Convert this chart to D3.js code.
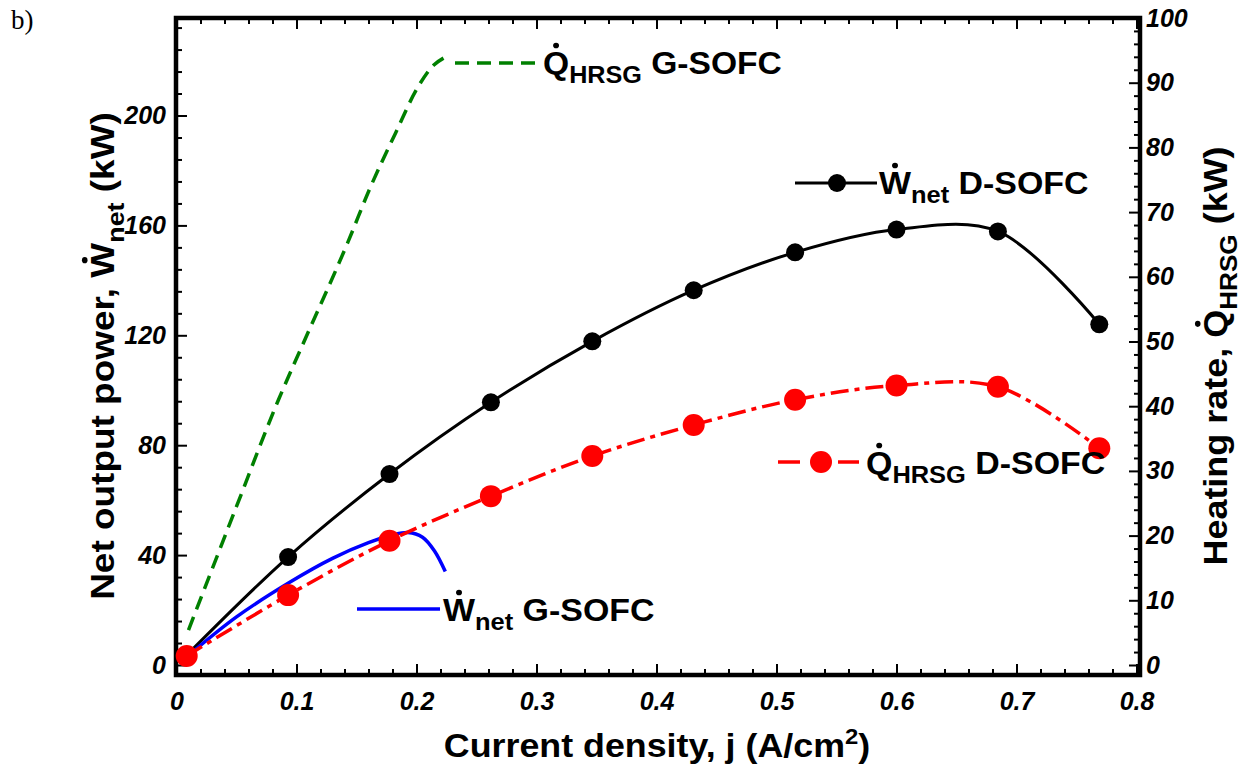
<!DOCTYPE html>
<html>
<head>
<meta charset="utf-8">
<script src="https://cdn.jsdelivr.net/npm/d3@7"></script>
<style>
  html, body { margin: 0; padding: 0; background: #fff; }
  svg { display: block; }
  text { font-family: Arial, "Liberation Sans", sans-serif; }
</style>
</head>
<body>
<svg id="chart" width="1248" height="775"></svg>
<script>
// ---------- data ----------
const jD = [0.0085, 0.093, 0.1775, 0.262, 0.3465, 0.431, 0.5155, 0.600, 0.6845, 0.769];
const wNetD = [3.6, 39.3, 69.5, 95.6, 117.8, 136.4, 150.2, 158.5, 157.8, 124];
const qHrsgD = [1.4, 10.8, 19.2, 26.1, 32.3, 37.1, 41.0, 43.2, 43.0, 33.5];

const jGq = [0.01, 0.05, 0.085, 0.1075, 0.1425, 0.1617, 0.1825, 0.2008, 0.2142, 0.2225];
const qHrsgG = [5.4, 24.5, 41, 50.5, 65.2, 73.9, 82.2, 89.2, 92.7, 93.8];

const jGw = [0.01, 0.05, 0.094, 0.13, 0.16, 0.18, 0.193, 0.205, 0.215, 0.224];
const wNetG = [3.5, 17.5, 30, 38.8, 44.5, 47.3, 48.2, 46.5, 41.5, 34];

const xTicks = [0, 0.1, 0.2, 0.3, 0.4, 0.5, 0.6, 0.7, 0.8];
const yLeftTicks = [0, 40, 80, 120, 160, 200];
const yRightTicks = [0, 10, 20, 30, 40, 50, 60, 70, 80, 90, 100];

// ---------- layout ----------
const L = 176, R = 1140, T = 18, B = 675;
const svg = d3.select("#chart");

const x = d3.scaleLinear().domain([0, 0.8]).range([176.5, 1136.5]);
const yL = d3.scaleLinear().domain([0, 200]).range([665, 115.5]);
const yR = d3.scaleLinear().domain([0, 100]).range([665, 18]);

const tickFont = "bold italic 25px Arial, 'Liberation Sans', sans-serif";

function styleAxis(g) {
  g.select(".domain").remove();
  g.selectAll(".tick line").attr("stroke", "#000").attr("stroke-width", 2);
  g.selectAll(".tick text").style("font", tickFont).attr("fill", "#000");
}

const xMinor = d3.range(0, 0.801, 0.02).filter(v => Math.abs(v * 10 - Math.round(v * 10)) > 1e-6);
const yLMinor = d3.range(8, 236, 8).filter(v => v % 40 !== 0);
const yRMinor = d3.range(2, 100, 2).filter(v => v % 10 !== 0);

// bottom
svg.append("g").attr("transform", `translate(0,${B})`)
  .call(d3.axisBottom(x).tickValues(xMinor).tickSize(-6).tickFormat(""))
  .call(styleAxis);
svg.append("g").attr("transform", `translate(0,${B})`)
  .call(d3.axisBottom(x).tickValues(xTicks).tickSize(-11).tickPadding(17)
    .tickFormat(d => d === 0 ? "0" : d3.format(".1f")(d)))
  .call(styleAxis);
// top
svg.append("g").attr("transform", `translate(0,${T})`)
  .call(d3.axisTop(x).tickValues(xMinor).tickSize(-6).tickFormat(""))
  .call(styleAxis);
svg.append("g").attr("transform", `translate(0,${T})`)
  .call(d3.axisTop(x).tickValues(xTicks).tickSize(-11).tickFormat(""))
  .call(styleAxis);
// left
svg.append("g").attr("transform", `translate(${L},0)`)
  .call(d3.axisLeft(yL).tickValues(yLMinor).tickSize(-6).tickFormat(""))
  .call(styleAxis);
svg.append("g").attr("transform", `translate(${L},0)`)
  .call(d3.axisLeft(yL).tickValues(yLeftTicks).tickSize(-11).tickPadding(10).tickFormat(d3.format("d")))
  .call(styleAxis);
// right
svg.append("g").attr("transform", `translate(${R},0)`)
  .call(d3.axisRight(yR).tickValues(yRMinor).tickSize(-6).tickFormat(""))
  .call(styleAxis);
svg.append("g").attr("transform", `translate(${R},0)`)
  .call(d3.axisRight(yR).tickValues(yRightTicks).tickSize(-11).tickPadding(6).tickFormat(d3.format("d")))
  .call(styleAxis);

// frame
svg.append("rect").attr("x", L).attr("y", T).attr("width", R - L).attr("height", B - T)
  .attr("fill", "none").attr("stroke", "#000").attr("stroke-width", 4.5);

// ---------- series ----------
const green = "#008000", blue = "#0000ff", red = "#ff0000";

const lineG = d3.line().x((d, i) => x(jGq[i])).y(d => yR(d)).curve(d3.curveMonotoneX);
svg.append("path").attr("d", lineG(qHrsgG)).attr("fill", "none")
  .attr("stroke", green).attr("stroke-width", 3.5).attr("stroke-dasharray", "14,8");

const lineK = d3.line().x((d, i) => x(jD[i])).y(d => yL(d)).curve(d3.curveCatmullRom.alpha(0.5));
svg.append("path").attr("d", lineK(wNetD)).attr("fill", "none")
  .attr("stroke", "#000").attr("stroke-width", 3);
svg.append("g").selectAll("circle").data(wNetD).join("circle")
  .attr("cx", (d, i) => x(jD[i])).attr("cy", d => yL(d)).attr("r", 9).attr("fill", "#000");

const lineB = d3.line().x((d, i) => x(jGw[i])).y(d => yL(d)).curve(d3.curveCatmullRom.alpha(0.5));
svg.append("path").attr("d", lineB(wNetG)).attr("fill", "none")
  .attr("stroke", blue).attr("stroke-width", 3.5);

const lineR = d3.line().x((d, i) => x(jD[i])).y(d => yR(d)).curve(d3.curveCatmullRom.alpha(0.5));
svg.append("path").attr("d", lineR(qHrsgD)).attr("fill", "none")
  .attr("stroke", red).attr("stroke-width", 3.5).attr("stroke-dasharray", "18,6,5,6");
svg.append("g").selectAll("circle").data(qHrsgD).join("circle")
  .attr("cx", (d, i) => x(jD[i])).attr("cy", d => yR(d)).attr("r", 11).attr("fill", red);

// ---------- rich text helper ----------
function richText(parent, transform, parts, size, subSize, opts = {}) {
  const g = parent.append("g").attr("transform", transform);
  const t = g.append("text").attr("x", 0).attr("y", 0)
    .attr("font-size", size).attr("font-weight", "bold").attr("fill", "#000")
    .attr("text-anchor", opts.anchor || "start");
  let idx = 0, shift = 0;
  const dots = [];
  const subDy = opts.subDy || 9;
  parts.forEach(p => {
    const ts = t.append("tspan").text(p.t);
    let dy = 0;
    if (p.sub) { dy = subDy - shift; shift = subDy; ts.attr("font-size", subSize); }
    else if (p.sup) { dy = -13 - shift; shift = -13; ts.attr("font-size", subSize); }
    else { dy = -shift; shift = 0; }
    if (dy) ts.attr("dy", dy);
    if (p.dot) dots.push(idx);
    idx += p.t.length;
  });
  dots.forEach(i => {
    const e = t.node().getExtentOfChar(i);
    g.append("circle").attr("cx", e.x + e.width / 2).attr("cy", -0.72 * size - 5.5)
      .attr("r", 2.8).attr("fill", "#000");
  });
  return g;
}

// axis titles
richText(svg, "translate(657,757) scale(1.085,1)",
  [{t: "Current density, j (A/cm"}, {t: "2", sup: true}, {t: ")"}], 33, 22, {anchor: "middle"});
richText(svg, "translate(114,356) rotate(-90) scale(1.12,1)",
  [{t: "Net output power, "}, {t: "W", dot: true}, {t: "net", sub: true}, {t: " (kW)"}], 33, 24,
  {anchor: "middle", subDy: 10});
richText(svg, "translate(1227,356) rotate(-90) scale(1.09,1)",
  [{t: "Heating rate, "}, {t: "Q", dot: true}, {t: "HRSG", sub: true}, {t: " (kW)"}], 33, 24,
  {anchor: "middle", subDy: 10});

// panel label
svg.append("text").attr("x", 11).attr("y", 29).text("b)")
  .style("font", "27px 'Times New Roman', 'Liberation Serif', serif");

// ---------- legends ----------
// green
svg.append("line").attr("x1", 455).attr("x2", 537).attr("y1", 63).attr("y2", 63)
  .attr("stroke", green).attr("stroke-width", 3.5).attr("stroke-dasharray", "14,8");
richText(svg, "translate(543,74) scale(1.05,1)",
  [{t: "Q", dot: true}, {t: "HRSG", sub: true}, {t: " G-SOFC"}], 32, 24);

// black
svg.append("line").attr("x1", 795).attr("x2", 877).attr("y1", 183).attr("y2", 183)
  .attr("stroke", "#000").attr("stroke-width", 3);
svg.append("circle").attr("cx", 837).attr("cy", 183).attr("r", 9).attr("fill", "#000");
richText(svg, "translate(879,194) scale(1.06,1)",
  [{t: "W", dot: true}, {t: "net", sub: true}, {t: " D-SOFC"}], 32, 24);

// red
svg.append("line").attr("x1", 778).attr("x2", 800).attr("y1", 462).attr("y2", 462)
  .attr("stroke", red).attr("stroke-width", 3.5);
svg.append("line").attr("x1", 838).attr("x2", 859).attr("y1", 462).attr("y2", 462)
  .attr("stroke", red).attr("stroke-width", 3.5);
svg.append("circle").attr("cx", 821).attr("cy", 462).attr("r", 11).attr("fill", red);
richText(svg, "translate(866,474) scale(1.06,1)",
  [{t: "Q", dot: true}, {t: "HRSG", sub: true}, {t: " D-SOFC"}], 32, 24);

// blue
svg.append("line").attr("x1", 357).attr("x2", 440).attr("y1", 609).attr("y2", 609)
  .attr("stroke", blue).attr("stroke-width", 3.5);
richText(svg, "translate(443,621) scale(1.06,1)",
  [{t: "W", dot: true}, {t: "net", sub: true}, {t: " G-SOFC"}], 32, 24);
</script>
</body>
</html>
